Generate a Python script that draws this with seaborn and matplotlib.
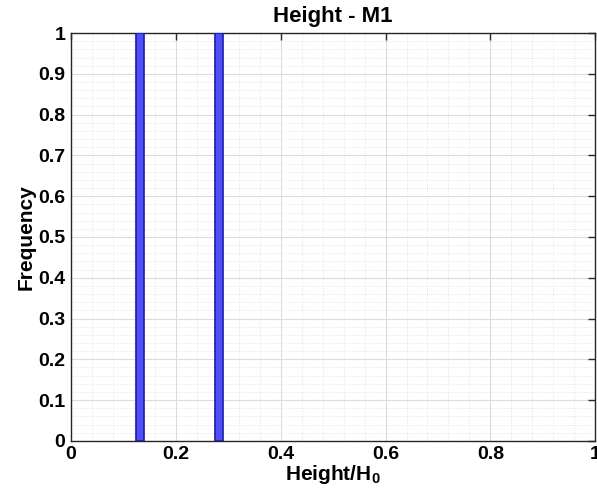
import numpy as np
import matplotlib
matplotlib.use("Agg")
import matplotlib.pyplot as plt
import seaborn as sns
from matplotlib.ticker import MultipleLocator

# histogram bars
bin_centers = [0.131, 0.282]
frequency = [1.0, 1.0]
bin_width = 0.016

x_ticks = [0, 0.2, 0.4, 0.6, 0.8, 1]
x_ticklabels = ['0', '0.2', '0.4', '0.6', '0.8', '1']
y_ticks = [0, 0.1, 0.2, 0.3, 0.4, 0.5, 0.6, 0.7, 0.8, 0.9, 1]
y_ticklabels = ['0', '0.1', '0.2', '0.3', '0.4', '0.5', '0.6', '0.7', '0.8', '0.9', '1']

sns.set_style("white")
plt.rcParams['font.family'] = ['Liberation Sans', 'DejaVu Sans']
plt.rcParams['font.weight'] = 'bold'
plt.rcParams['mathtext.fontset'] = 'custom'
plt.rcParams['mathtext.bf'] = 'Liberation Sans:bold'
plt.rcParams['mathtext.rm'] = 'Liberation Sans:bold'

fig = plt.figure(figsize=(5.97, 5.01), dpi=100)
ax = fig.add_axes([0.119, 0.12, 0.878, 0.814])

ax.bar(bin_centers, frequency, width=bin_width, color='#4f4ff5',
       edgecolor='#1c1cb0', linewidth=1.2, zorder=3)

ax.set_xlim(0, 1)
ax.set_ylim(0, 1)
ax.xaxis.set_minor_locator(MultipleLocator(0.04))
ax.yaxis.set_minor_locator(MultipleLocator(0.02))
ax.set_xticks(x_ticks)
ax.set_xticklabels(x_ticklabels)
ax.set_yticks(y_ticks)
ax.set_yticklabels(y_ticklabels)

ax.grid(which='major', color='#dcdcdc', linewidth=0.8, linestyle='-', zorder=0)
ax.grid(which='minor', color='#dedede', linewidth=0.6, linestyle=':', zorder=0)
ax.set_axisbelow(True)

ax.tick_params(which='both', direction='in', top=True, right=True,
               labelsize=14, width=1, colors='#262626', labelcolor='black')
ax.tick_params(which='major', length=5, pad=4)
ax.tick_params(which='minor', length=0)
for s in ax.spines.values():
    s.set_color('#262626')
    s.set_linewidth(1)

ax.set_title('Height - M1', fontsize=16, fontweight='bold', pad=8, color='black')
ax.set_xlabel('Height/H$_{0}$', fontsize=15, fontweight='bold', labelpad=0, color='black')
ax.set_ylabel('Frequency', fontsize=15, fontweight='bold', labelpad=2, color='black')

fig.savefig('out.png', dpi=100)
